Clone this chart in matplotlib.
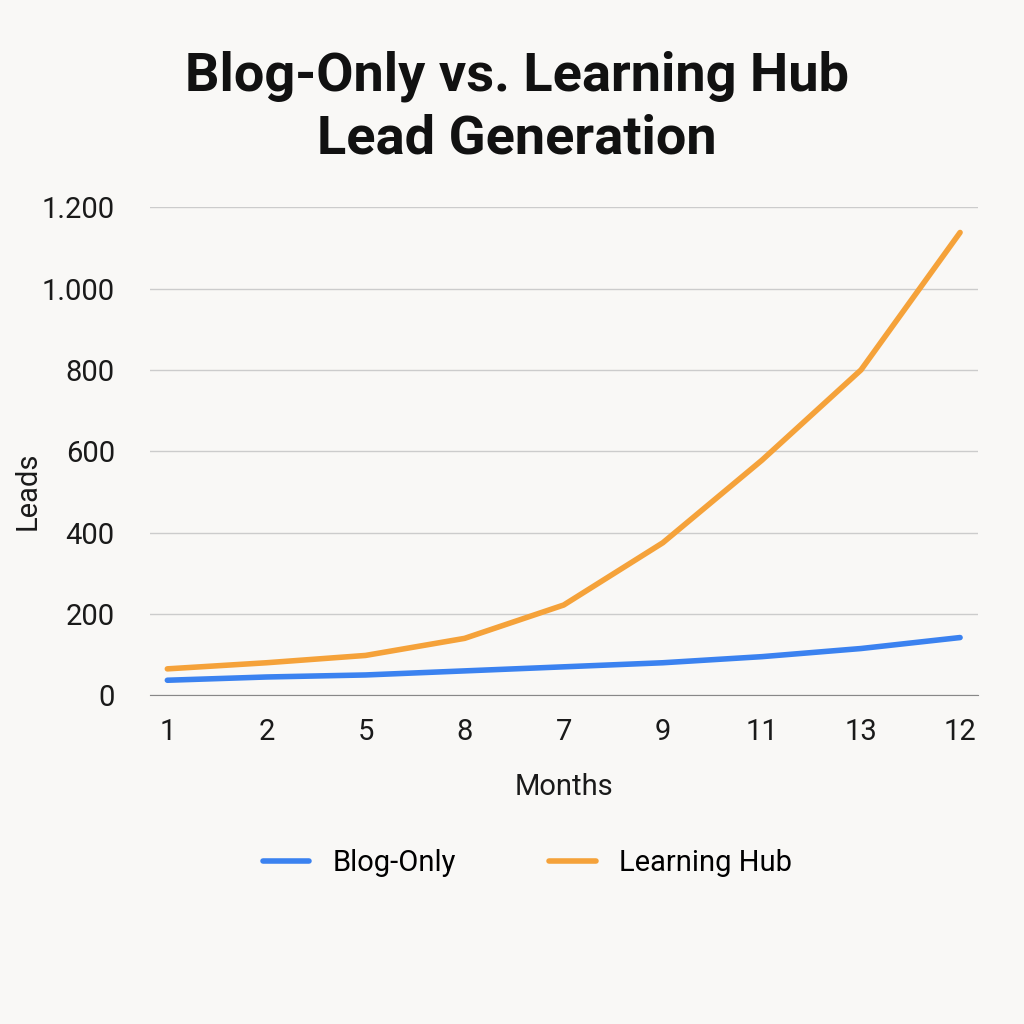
import matplotlib
matplotlib.use("Agg")
import matplotlib.pyplot as plt
from matplotlib.ticker import FuncFormatter

months = ["1", "2", "5", "8", "7", "9", "11", "13", "12"]
blog_only = [37, 45, 50, 60, 70, 80, 95, 115, 142]
learning_hub = [65, 80, 98, 140, 222, 375, 578, 800, 1138]
yticks = [0, 200, 400, 600, 800, 1000, 1200]

plt.rcParams['font.family'] = ['Roboto', 'DejaVu Sans']
bg = "#f9f8f6"
fig = plt.figure(figsize=(10.24, 10.24), dpi=100, facecolor=bg)
ax = fig.add_axes([0.146, 0.321, 0.809, 0.4766], facecolor=bg)

x = list(range(len(months)))
ax.plot(x, blog_only, color="#3b82f0", lw=4, solid_capstyle="round", label="Blog-Only")
ax.plot(x, learning_hub, color="#f5a23a", lw=4, solid_capstyle="round", label="Learning Hub")

ax.set_xlim(-0.18, 8.18)
ax.set_ylim(0, 1200)
ax.set_xticks(x)
ax.set_xticklabels(months)
ax.set_yticks(yticks)
ax.yaxis.set_major_formatter(FuncFormatter(lambda v, p: f"{int(v):,}".replace(",", ".")))
ax.tick_params(axis='both', length=0, labelsize=21, colors="#1a1a1a")
ax.tick_params(axis='x', pad=16)
ax.tick_params(axis='y', pad=25)
ax.grid(axis='y', color="#cccccc", lw=1)
ax.set_axisbelow(True)
for s in ["top", "right", "left"]:
    ax.spines[s].set_visible(False)
ax.spines["bottom"].set_color("#888888")
ax.set_xlabel("Months", fontsize=21, labelpad=20, color="#1a1a1a")
ax.set_ylabel("Leads", fontsize=21, color="#1a1a1a")
ax.yaxis.set_label_coords(-0.13, 0.42)

fig.text(0.505, 0.895, "Blog-Only vs. Learning Hub\nLead Generation", ha="center", va="center",
         fontsize=39, fontweight="bold", linespacing=1.3, color="#111111")

fig.legend(loc="center", bbox_to_anchor=(0.515, 0.157), ncol=2, frameon=False,
           fontsize=21, handlelength=1.6, columnspacing=3.2, handletextpad=0.8)

fig.savefig("out.png", dpi=100, facecolor=bg)
